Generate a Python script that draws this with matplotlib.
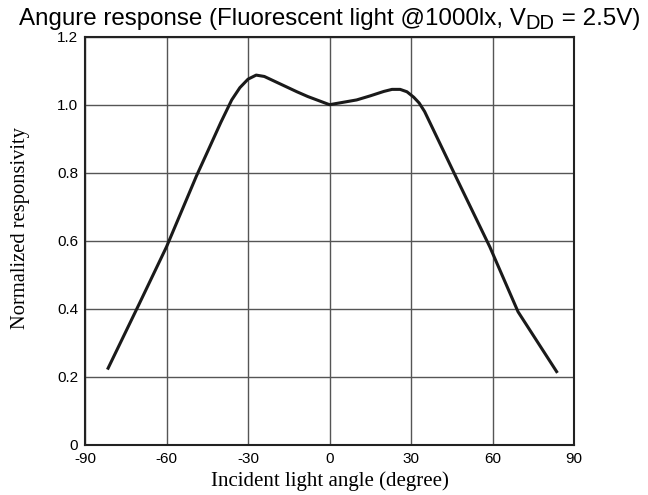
import matplotlib.pyplot as plt

# Angle (degree) and normalized responsivity
angle = [-81.5, -70, -60, -49, -45, -40, -36, -33, -30, -27, -24, -20, -16, -12,
         -8, -4, 0, 5, 10, 15, 20, 23, 26, 28.5, 31, 33, 35, 47, 59, 69.4, 83.6]
resp = [0.225, 0.415, 0.582, 0.79, 0.86, 0.948, 1.014, 1.05, 1.075, 1.087, 1.083,
        1.068, 1.053, 1.038, 1.024, 1.012, 1.0, 1.007, 1.014, 1.026, 1.039, 1.045,
        1.045, 1.038, 1.022, 1.005, 0.98, 0.78, 0.582, 0.391, 0.215]

x_ticks = [-90, -60, -30, 0, 30, 60, 90]
y_ticks = [0, 0.2, 0.4, 0.6, 0.8, 1.0, 1.2]
y_labels = ['0', '0.2', '0.4', '0.6', '0.8', '1.0', '1.2']

title_parts = ['Angure response (Fluorescent light @1000lx, V', 'DD', ' = 2.5V)']

plt.rcParams['font.family'] = 'Liberation Sans'

W, H = 648, 495
fig = plt.figure(figsize=(W / 100, H / 100), dpi=100)
ax = fig.add_axes([0.1312, 0.1016, 0.7546, 0.8243])

ax.plot(angle, resp, color='#1a1a1a', lw=2.2, solid_joinstyle='round')

ax.set_xlim(-90, 90)
ax.set_ylim(0, 1.2)
ax.set_xticks(x_ticks)
ax.set_xticklabels([str(t) for t in x_ticks])
ax.set_yticks(y_ticks)
ax.set_yticklabels(y_labels)
ax.tick_params(length=0, labelsize=11, pad=5)
ax.grid(True, color='#555555', lw=1.0)
for s in ax.spines.values():
    s.set_linewidth(1.5)
    s.set_color('#222222')

ax.set_xlabel('Incident light angle (degree)', family='Liberation Serif', fontsize=15, labelpad=4)
ax.set_ylabel('Normalized responsivity', family='Liberation Serif', fontsize=14.8)
ax.yaxis.set_label_coords(-0.113, 0.53)

# title with a large, lowered subscript, built from pieces
base_y = (H - 25) / H
sizes = [17.4, 14.5, 17.4]
drops = [0, 4, 0]
pieces = [fig.text(0, base_y - d / H, t, fontsize=sz, va='baseline', ha='left')
          for t, sz, d in zip(title_parts, sizes, drops)]
fig.canvas.draw()
r = fig.canvas.get_renderer()
widths = [p.get_window_extent(r).width for p in pieces]
x = 329.5 - sum(widths) / 2
for p, w in zip(pieces, widths):
    p.set_x(x / W)
    x += w

fig.savefig('out.png', dpi=100)
